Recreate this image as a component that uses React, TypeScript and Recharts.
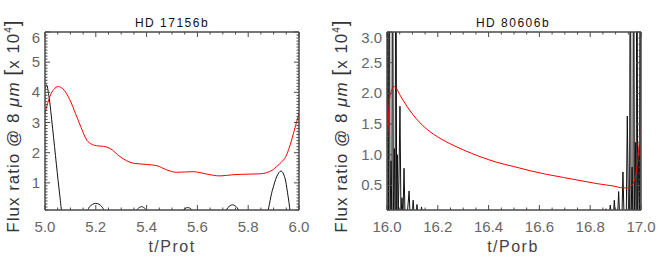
import { LineChart, Line, XAxis, YAxis } from "recharts";

// HD 17156b (t/Prot)
const protT = [5.0, 5.01, 5.02, 5.035, 5.052, 5.07, 5.098, 5.12, 5.138, 5.17, 5.203, 5.23, 5.256, 5.295, 5.348, 5.4, 5.44, 5.479, 5.518, 5.55, 5.584, 5.61, 5.637, 5.689, 5.741, 5.807, 5.85, 5.873, 5.895, 5.912, 5.93, 5.948, 5.971, 5.985, 6.0];
const protFlux = [3.3, 3.62, 3.88, 4.1, 4.19, 4.12, 3.75, 3.3, 2.92, 2.36, 2.23, 2.21, 2.14, 1.87, 1.65, 1.61, 1.57, 1.43, 1.35, 1.36, 1.37, 1.34, 1.29, 1.23, 1.27, 1.29, 1.3, 1.34, 1.42, 1.54, 1.68, 1.87, 2.42, 2.85, 3.3];
const protBlackT = [5.0, 5.006, 5.015, 5.03, 5.045, 5.058, 5.068, 5.16, 5.175, 5.2, 5.225, 5.24, 5.35, 5.365, 5.38, 5.395, 5.41, 5.535, 5.548, 5.562, 5.576, 5.59, 5.705, 5.72, 5.738, 5.756, 5.77, 5.872, 5.895, 5.912, 5.929, 5.945, 5.958, 5.968, 6.0];
const protBlack = [4.15, 4.25, 3.9, 2.8, 1.6, 0.6, 0, 0, 0.2, 0.32, 0.2, 0, 0, 0.14, 0.21, 0.14, 0, 0, 0.13, 0.18, 0.13, 0, 0, 0.18, 0.27, 0.18, 0, 0, 0.75, 1.2, 1.39, 1.15, 0.5, 0, 0];

// HD 80606b (t/Porb)
const porbT = [16.0, 16.004, 16.008, 16.013, 16.02, 16.028, 16.037, 16.05, 16.063, 16.08, 16.103, 16.13, 16.168, 16.2, 16.234, 16.3, 16.366, 16.43, 16.497, 16.563, 16.629, 16.695, 16.76, 16.826, 16.892, 16.93, 16.948, 16.962, 16.972, 16.98, 16.987, 16.994, 17.0];
const porbFlux = [1.0, 1.45, 1.8, 1.98, 2.07, 2.11, 2.08, 1.98, 1.89, 1.78, 1.65, 1.52, 1.38, 1.29, 1.21, 1.08, 0.97, 0.88, 0.81, 0.74, 0.68, 0.63, 0.58, 0.53, 0.49, 0.46, 0.46, 0.49, 0.56, 0.68, 0.91, 1.24, 1.43];
const porbBlackT = [
  16.0, 16.003, 16.006, 16.009, 16.012, 16.016, 16.019, 16.022, 16.025, 16.029, 16.032, 16.035, 16.038,
  16.041, 16.044, 16.047, 16.051, 16.055, 16.059, 16.063, 16.067, 16.071, 16.079, 16.083, 16.087, 16.091,
  16.099, 16.103, 16.107, 16.114, 16.118, 16.122, 16.132, 16.136, 16.14,
  16.858, 16.862, 16.866, 16.875, 16.879, 16.883, 16.891, 16.895, 16.899, 16.908, 16.912, 16.916,
  16.925, 16.929, 16.933, 16.942, 16.946, 16.951,
  16.955, 16.958, 16.961, 16.965, 16.968, 16.971, 16.974, 16.978, 16.981, 16.984, 16.987, 16.991, 16.994, 16.997, 17.0,
];
const porbBlack = [
  0, 4.5, 0, 6, 0, 0.9, 0, 6, 0, 1.1, 0, 6, 0,
  1.0, 0, 0.6, 1.79, 0, 0.3, 0, 0.78, 0, 0, 0.2, 0.41, 0,
  0, 0.26, 0, 0, 0.19, 0, 0, 0.15, 0,
  0, 0.12, 0, 0, 0.18, 0, 0, 0.26, 0, 0, 0.4, 0,
  0, 0.72, 0, 0, 1.63, 0,
  0, 6, 0, 0.8, 0, 6, 0, 1.2, 0, 6, 0, 1.0, 0, 6, 0,
];

const protXLabels = [5.0, 5.2, 5.4, 5.6, 5.8, 6.0];
const protYLabels = [1, 2, 3, 4, 5, 6];
const porbXLabels = [16.0, 16.2, 16.4, 16.6, 16.8, 17.0];
const porbYLabels = [0.5, 1.0, 1.5, 2.0, 2.5, 3.0];

const zip = (t: number[], f: number[]) => t.map((v, i) => ({ t: v, f: f[i] }));
const steps = (a: number, b: number, s: number) =>
  Array.from({ length: Math.round((b - a) / s) + 1 }, (_, i) => +(a + i * s).toFixed(3));

const FONT = "Liberation Sans, Arial, sans-serif";
const FRAME = "#4a4a4a";
const LABEL = "#666";
const TOP = 32;
const AX = 10; // axis box size, margins are reduced by this

const isMajor = (v: number, majors: number[]) => majors.some((m) => Math.abs(m - v) < 1e-6);

function xTick(majors: number[], side: "bottom" | "top") {
  return (p: any) => {
    const v = p.payload.value;
    const major = isMajor(v, majors);
    const len = major ? 5 : 2.5;
    const dir = side === "bottom" ? -1 : 1;
    return (
      <g>
        <line x1={p.x} x2={p.x} y1={p.y} y2={p.y + dir * len} stroke={FRAME} />
        {side === "bottom" && major && (
          <text x={p.x} y={p.y + 22} textAnchor="middle" fontSize={15} fill={LABEL} fontFamily={FONT}>
            {v.toFixed(1)}
          </text>
        )}
      </g>
    );
  };
}

function yTick(majors: number[], side: "left" | "right", digits: number) {
  return (p: any) => {
    const v = p.payload.value;
    const major = isMajor(v, majors);
    const len = major ? 5 : 2.5;
    const dir = side === "left" ? 1 : -1;
    return (
      <g>
        <line x1={p.x} x2={p.x + dir * len} y1={p.y} y2={p.y} stroke={FRAME} />
        {side === "left" && major && (
          <text x={p.x - 5} y={Math.max(p.y, TOP + 6) + 5} textAnchor="end" fontSize={15} fill={LABEL} fontFamily={FONT}>
            {v.toFixed(digits)}
          </text>
        )}
      </g>
    );
  };
}

function Panel(props: {
  left: number;
  width: number;
  margin: { top: number; right: number; bottom: number; left: number };
  xDomain: [number, number];
  yDomain: [number, number];
  xLabels: number[];
  yLabels: number[];
  yDigits: number;
  red: { t: number; f: number }[];
  black: { t: number; f: number }[];
  blackType: "monotone" | "linear";
}) {
  const xt = steps(props.xDomain[0], props.xDomain[1], 0.05);
  const yt = steps(props.yDomain[0], props.yDomain[1], 0.1);
  const axisLine = { stroke: FRAME, strokeWidth: 1.5 };
  const m = props.margin;
  return (
    <div style={{ position: "absolute", left: props.left, top: 0 }}>
      <LineChart width={props.width} height={266}
        margin={{ top: m.top - AX, right: m.right - AX, bottom: m.bottom - AX, left: m.left - AX }}>
        <XAxis xAxisId="b" type="number" dataKey="t" domain={props.xDomain} ticks={xt} interval={0} allowDataOverflow
          height={AX} tickSize={0} tickMargin={0} tickLine={false} axisLine={axisLine} tick={xTick(props.xLabels, "bottom")} />
        <XAxis xAxisId="t" orientation="top" type="number" dataKey="t" domain={props.xDomain} ticks={xt} interval={0} allowDataOverflow
          height={AX} tickSize={0} tickMargin={0} tickLine={false} axisLine={axisLine} tick={xTick(props.xLabels, "top")} />
        <YAxis yAxisId="l" type="number" domain={props.yDomain} ticks={yt} interval={0} allowDataOverflow
          width={AX} tickSize={0} tickMargin={0} tickLine={false} axisLine={axisLine} tick={yTick(props.yLabels, "left", props.yDigits)} />
        <YAxis yAxisId="r" orientation="right" type="number" domain={props.yDomain} ticks={yt} interval={0} allowDataOverflow
          width={AX} tickSize={0} tickMargin={0} tickLine={false} axisLine={axisLine} tick={yTick(props.yLabels, "right", props.yDigits)} />
        <Line xAxisId="b" yAxisId="l" data={props.black} dataKey="f" type={props.blackType} stroke="#111" strokeWidth={1}
          dot={false} isAnimationActive={false} />
        <Line xAxisId="b" yAxisId="l" data={props.red} dataKey="f" type="monotone" stroke="#ff0000" strokeWidth={1}
          dot={false} isAnimationActive={false} />
      </LineChart>
    </div>
  );
}

function YTitle({ x, y }: { x: number; y: number }) {
  return (
    <text transform={`translate(${x},${y}) rotate(-90)`} textAnchor="middle" fontSize={17} letterSpacing={1} fill="#333" fontFamily={FONT}>
      Flux ratio @ 8 <tspan fontStyle="italic">μm</tspan> <tspan fontSize={21}>[</tspan>x 10
      <tspan dy={-7} fontSize={10}>4</tspan>
      <tspan dy={7} fontSize={21}>]</tspan>
    </text>
  );
}

export default function App() {
  return (
    <div style={{ position: "fixed", left: 0, top: 0, width: 664, height: 266, background: "#fff" }}>
      <Panel left={0} width={332} margin={{ top: TOP, right: 33, bottom: 56, left: 45 }}
        xDomain={[5, 6]} yDomain={[0.1, 6]} xLabels={protXLabels} yLabels={protYLabels} yDigits={0}
        red={zip(protT, protFlux)} black={zip(protBlackT, protBlack)} blackType="monotone" />
      <Panel left={330} width={334} margin={{ top: TOP, right: 23, bottom: 56, left: 57 }}
        xDomain={[16, 17]} yDomain={[0.1, 3]} xLabels={porbXLabels} yLabels={porbYLabels} yDigits={1}
        red={zip(porbT, porbFlux)} black={zip(porbBlackT, porbBlack)} blackType="linear" />
      <svg width={664} height={266} style={{ position: "absolute", left: 0, top: 0, pointerEvents: "none" }}>
        <text x={172} y={27} textAnchor="middle" fontSize={12} letterSpacing={1.5} fill="#111" fontFamily={FONT}>HD 17156b</text>
        <text x={513} y={27} textAnchor="middle" fontSize={12} letterSpacing={1.5} fill="#111" fontFamily={FONT}>HD 80606b</text>
        <text x={172} y={252} textAnchor="middle" fontSize={16} letterSpacing={1.5} fill="#444" fontFamily={FONT}>t/Prot</text>
        <text x={513} y={252} textAnchor="middle" fontSize={16} letterSpacing={1.5} fill="#444" fontFamily={FONT}>t/Porb</text>
        <YTitle x={19} y={126} />
        <YTitle x={347} y={126} />
      </svg>
    </div>
  );
}
